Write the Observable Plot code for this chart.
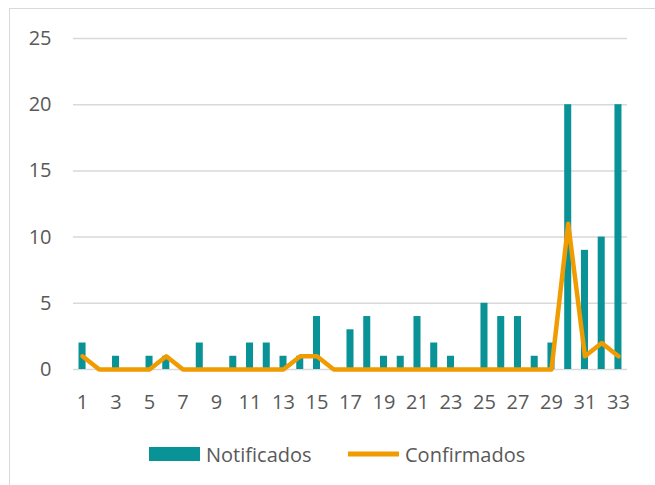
<!DOCTYPE html>
<html>
<head>
<meta charset="utf-8">
<script src="https://cdn.jsdelivr.net/npm/d3@7"></script>
<script src="https://cdn.jsdelivr.net/npm/@observablehq/plot@0.6"></script>
<style>
  html, body { margin: 0; padding: 0; width: 655px; height: 485px; overflow: hidden; background: #fff; font-family: "Open Sans", sans-serif; }
  #frame { position: absolute; left: 9px; top: 8px; width: 700px; height: 520px; border: 1.5px solid #d9d9d9; box-sizing: border-box; }
  #chart { position: absolute; left: 0; top: 0; }
  #legend { position: absolute; top: 441px; left: 0; width: 655px; height: 26px; font-size: 20px; color: #595959; }
  .item { position: absolute; top: 0; display: flex; align-items: center; height: 26px; }
  .item svg { margin-right: 6px; }
</style>
</head>
<body>
<div id="frame"></div>
<div id="chart"></div>
<div id="legend">
  <div class="item" style="left:149px"><svg width="51" height="14"><rect width="51" height="14" fill="#0a9396"></rect></svg><span>Notificados</span></div>
  <div class="item" style="left:348px"><svg width="51" height="14"><rect y="4.5" width="51" height="5" fill="#f09c00"></rect></svg><span>Confirmados</span></div>
</div>
<script>
const weeks = d3.range(1, 34);
const notificados = [2,0,1,0,1,1,0,2,0,1,2,2,1,1,4,0,3,4,1,1,4,2,1,0,5,4,4,1,2,20,9,10,20];
const confirmados = [1,0,0,0,0,1,0,0,0,0,0,0,0,1,1,0,0,0,0,0,0,0,0,0,0,0,0,0,0,11,1,2,1];
const yTicks = [0,5,10,15,20,25];
const xTicks = weeks.filter(w => w % 2 === 1);

const data = weeks.map((w, i) => ({week: w, notificados: notificados[i], confirmados: confirmados[i]}));

const chart = Plot.plot({
  width: 655,
  height: 420,
  marginTop: 38,
  marginBottom: 51,
  marginLeft: 73,
  marginRight: 28,
  style: {fontFamily: "Open Sans, sans-serif", fontSize: "20px", color: "#595959", background: "transparent"},
  x: {type: "band", domain: weeks, paddingInner: 0.58, paddingOuter: 0.33, align: 0.5, round: false, label: null},
  y: {domain: [0, 25], label: null},
  marks: [
    Plot.ruleY(yTicks, {stroke: "#d9d9d9", strokeWidth: 1.5}),
    Plot.barY(data, {x: "week", y: "notificados", fill: "#0a9396"}),
    Plot.line(data, {x: "week", y: "confirmados", stroke: "#f09c00", strokeWidth: 4.5, strokeLinejoin: "round", strokeLinecap: "round"}),
    Plot.axisX({ticks: xTicks, tickSize: 0, tickPadding: 25, fill: "#595959", fontSize: 20, label: null}),
    Plot.axisY({ticks: yTicks, tickSize: 0, tickPadding: 22, fill: "#595959", fontSize: 20, label: null})
  ]
});
document.getElementById("chart").appendChild(chart);
</script>
</body>
</html>
